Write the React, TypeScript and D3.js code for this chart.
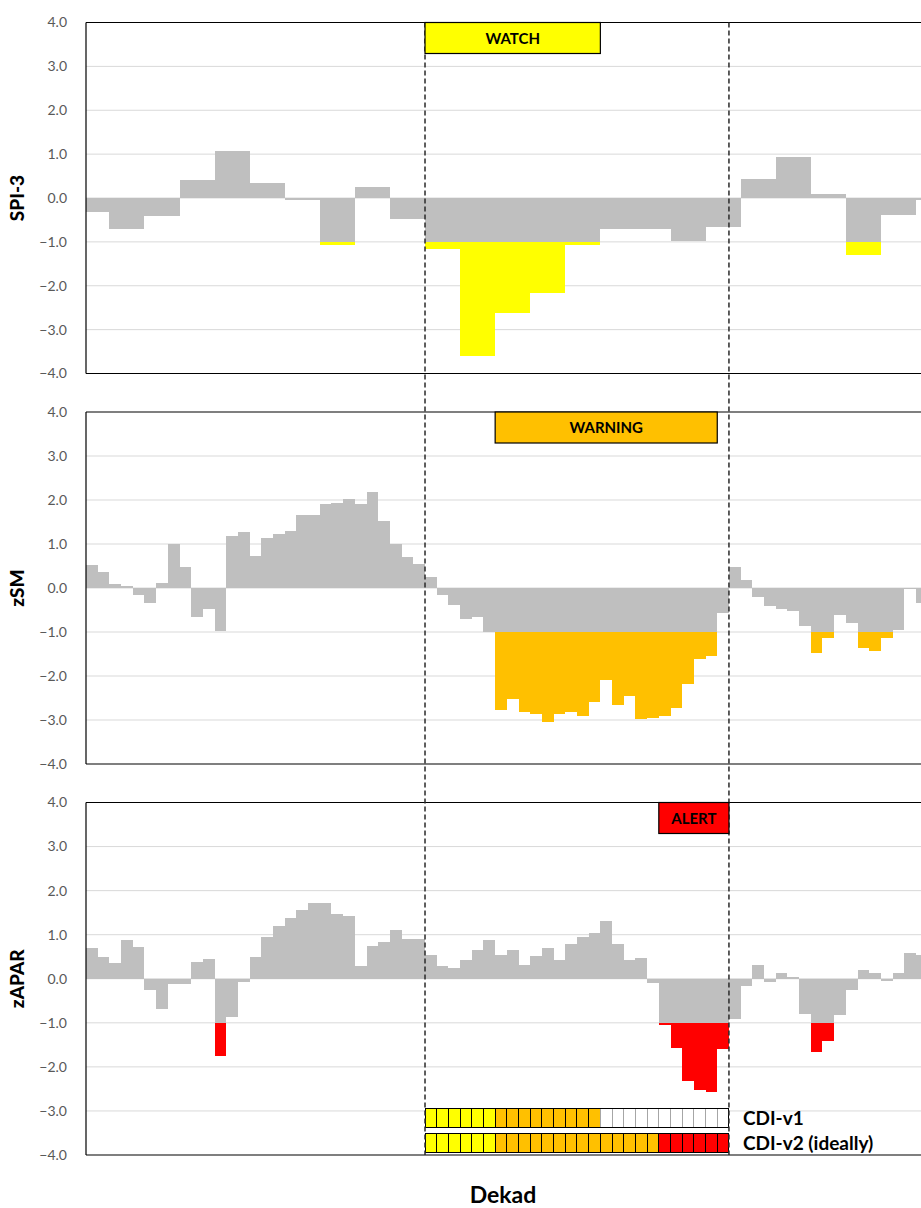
import React from 'react';
import * as d3 from 'd3';

// SPI-3 is monthly: each value holds from its start dekad to the next start
const spiStart = [0, 2, 5, 8, 11, 14, 17, 20, 23, 26, 29, 32, 35, 38, 41, 44, 47, 50, 53, 56, 59, 62, 65, 68, 71];
const spiValues = [-0.32, -0.7, -0.4, 0.4, 1.06, 0.34, -0.05, -1.07, 0.25, -0.48, -1.16, -3.61, -2.63, -2.16, -1.07, -0.71, -0.7, -0.99, -0.67, 0.44, 0.94, 0.08, -1.3, -0.39, -0.05];

// dekadal series
const zsmValues = [
  0.52, 0.37, 0.09, 0.04, -0.17, -0.35, 0.12, 1.0, 0.47, -0.66,
  -0.48, -0.98, 1.19, 1.27, 0.72, 1.14, 1.23, 1.29, 1.66, 1.66,
  1.91, 1.94, 2.02, 1.91, 2.18, 1.53, 1.0, 0.7, 0.55, 0.25,
  -0.17, -0.38, -0.7, -0.65, -0.99, -2.78, -2.53, -2.81, -2.86, -3.05,
  -2.86, -2.81, -2.91, -2.58, -2.09, -2.67, -2.45, -2.98, -2.95, -2.91,
  -2.73, -2.18, -1.62, -1.54, -0.57, 0.47, 0.19, -0.2, -0.42, -0.47,
  -0.52, -0.86, -1.48, -1.14, -0.61, -0.8, -1.37, -1.43, -1.14, -0.95,
  -0.03, -0.33,
];
const zaparValues = [
  0.69, 0.5, 0.35, 0.87, 0.72, -0.26, -0.69, -0.13, -0.13, 0.38,
  0.44, -1.76, -0.87, -0.07, 0.5, 0.94, 1.2, 1.39, 1.55, 1.73,
  1.73, 1.46, 1.42, 0.29, 0.74, 0.84, 1.11, 0.9, 0.9, 0.55,
  0.28, 0.25, 0.43, 0.65, 0.89, 0.55, 0.65, 0.31, 0.52, 0.7,
  0.43, 0.8, 0.95, 1.04, 1.31, 0.8, 0.43, 0.46, -0.1, -1.06,
  -1.58, -2.33, -2.52, -2.57, -1.6, -0.91, -0.16, 0.31, -0.07, 0.13,
  0.04, -0.8, -1.66, -1.41, -0.83, -0.25, 0.19, 0.13, -0.04, 0.13,
  0.59, 0.53,
];

const panelNames = ['SPI-3', 'zSM', 'zAPAR'];
const panelColors = ['#ffff00', '#ffc000', '#ff0000'];
const yTicks = [4, 3, 2, 1, 0, -1, -2, -3, -4];
const threshold = -1;

const eventLabels = ['WATCH', 'WARNING', 'ALERT'];
const eventFrom = [29, 35, 49];
const eventTo = [44, 54, 55];

const periodStart = 29;
const periodEnd = 55;

// 0 none, 1 watch, 2 warning, 3 alert
const cdiV1 = [1, 1, 1, 1, 1, 1, 2, 2, 2, 2, 2, 2, 2, 2, 2, 0, 0, 0, 0, 0, 0, 0, 0, 0, 0, 0];
const cdiV2 = [1, 1, 1, 1, 1, 1, 2, 2, 2, 2, 2, 2, 2, 2, 2, 2, 2, 2, 2, 2, 3, 3, 3, 3, 3, 3];
const cdiNames = ['CDI-v1', 'CDI-v2 (ideally)'];
const cdiColors = ['#ffffff', '#ffff00', '#ffc000', '#ff0000'];

const W = 921;
const H = 1208;
const FONT = 'Lato, "Open Sans", sans-serif';
const GRAY = '#bfbfbf';

type Bar = { x0: number; x1: number; v: number };

function Panel({ bars, top, bottom, color, name, x }: { bars: Bar[]; top: number; bottom: number; color: string; name: string; x: d3.ScaleLinear<number, number> }) {
  const y = d3.scaleLinear().domain([-4, 4]).range([bottom, top]);
  const left = x.range()[0];
  return (
    <g>
      {yTicks.filter((t) => t > -4 && t < 4).map((t) => (
        <line key={t} x1={left} x2={W} y1={y(t)} y2={y(t)} stroke="#d9d9d9" strokeWidth={1} />
      ))}
      <g shapeRendering="crispEdges">
        {bars.map((b, i) => {
          const top0 = b.v >= 0 ? y(b.v) : y(0);
          const bot0 = b.v >= 0 ? y(0) : y(Math.max(b.v, threshold));
          return (
            <g key={i}>
              <rect x={x(b.x0)} width={x(b.x1) - x(b.x0)} y={top0} height={bot0 - top0} fill={GRAY} />
              {b.v < threshold && (
                <rect x={x(b.x0)} width={x(b.x1) - x(b.x0)} y={y(threshold)} height={y(b.v) - y(threshold)} fill={color} />
              )}
            </g>
          );
        })}
      </g>
      <line x1={left} x2={W} y1={top} y2={top} stroke="#000" strokeWidth={1.2} />
      <line x1={left} x2={W} y1={bottom} y2={bottom} stroke="#000" strokeWidth={1.2} />
      <line x1={left} x2={left} y1={top} y2={bottom} stroke="#000" strokeWidth={1.2} />
      {yTicks.map((t) => (
        <text key={t} x={67} y={y(t)} dy="0.35em" textAnchor="end" fontSize={14} fill="#595959" fontFamily={FONT}>
          {d3.format('.1f')(t)}
        </text>
      ))}
      <text
        transform={`translate(24,${y(0)}) rotate(-90)`}
        textAnchor="middle"
        fontSize={19}
        fontWeight="900"
        fontFamily={FONT}
        fill="#000"
      >
        {name}
      </text>
    </g>
  );
}

export default function App() {
  const x = d3.scaleLinear().domain([0, 72]).range([86, 86 + 72 * 11.69]);
  const panelTop = [22.5, 412, 802.5];
  const panelBottom = [373.5, 764, 1155];

  const spiBars: Bar[] = spiStart.map((s, i) => ({ x0: s, x1: i < spiStart.length - 1 ? spiStart[i + 1] : 72, v: spiValues[i] }));
  const toBars = (vals: number[]): Bar[] => vals.map((v, i) => ({ x0: i, x1: i + 1, v }));
  const series = [spiBars, toBars(zsmValues), toBars(zaparValues)];

  const cdiRows = [cdiV1, cdiV2];
  const rowTop = [1108, 1133];
  const rowH = 19.5;

  return (
    <div style={{ position: 'absolute', left: 0, top: 0 }}>
      <svg width={W} height={H} style={{ display: 'block', background: '#fff' }}>
        {series.map((bars, i) => (
          <Panel key={i} bars={bars} top={panelTop[i]} bottom={panelBottom[i]} color={panelColors[i]} name={panelNames[i]} x={x} />
        ))}

        {/* CDI strips */}
        <g shapeRendering="crispEdges">
          {cdiRows.map((row, r) => (
            <g key={r}>
              {row.map((lvl, i) => (
                <rect
                  key={i}
                  x={x(periodStart + i)}
                  y={rowTop[r]}
                  width={x(periodStart + i + 1) - x(periodStart + i)}
                  height={rowH}
                  fill={cdiColors[lvl]}
                  stroke={lvl === 0 ? '#a6a6a6' : '#000'}
                  strokeWidth={1}
                />
              ))}
              <rect
                x={x(periodStart)}
                y={rowTop[r]}
                width={x(periodEnd) - x(periodStart)}
                height={rowH}
                fill="none"
                stroke="#000"
                strokeWidth={1}
              />
              <text
                x={x(periodEnd) + 14}
                y={rowTop[r] + rowH / 2}
                dy="0.36em"
                fontSize={19}
                fontWeight="bold"
                fontFamily={FONT}
                fill="#000"
              >
                {cdiNames[r]}
              </text>
            </g>
          ))}
        </g>

        {/* period boundaries */}
        {[periodStart, periodEnd].map((d) => (
          <line key={d} x1={x(d)} x2={x(d)} y1={panelTop[0]} y2={panelBottom[2]} stroke="#2a2a2a" strokeWidth={1.5} strokeDasharray="5,3" />
        ))}

        {/* event labels */}
        {eventLabels.map((lab, i) => (
          <g key={lab}>
            <rect
              x={x(eventFrom[i])}
              y={panelTop[i]}
              width={x(eventTo[i]) - x(eventFrom[i])}
              height={31}
              fill={panelColors[i]}
              stroke="#000"
              strokeWidth={1.2}
            />
            <text
              x={(x(eventFrom[i]) + x(eventTo[i])) / 2}
              y={panelTop[i] + 16}
              dy="0.36em"
              textAnchor="middle"
              fontSize={15}
              fontWeight="bold"
              fontFamily={FONT}
              fill="#000"
            >
              {lab}
            </text>
          </g>
        ))}

        <text x={503} y={1195} dy="0.35em" textAnchor="middle" fontSize={23} fontWeight="bold" fontFamily={FONT} fill="#000">
          Dekad
        </text>
      </svg>
    </div>
  );
}
